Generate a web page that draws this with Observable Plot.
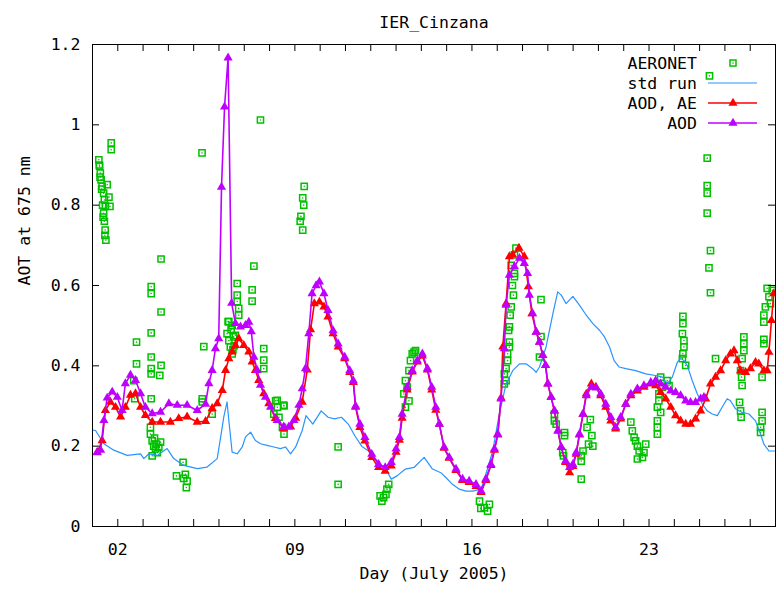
<!DOCTYPE html>
<html><head><meta charset="utf-8">
<script src="https://cdn.jsdelivr.net/npm/d3@7"></script>
<script src="https://cdn.jsdelivr.net/npm/@observablehq/plot@0.6"></script>
<style>
html,body{margin:0;padding:0;background:#fff;}
</style>
</head><body><div id="chart"></div>
<script>
// ---- data: [day of July 2005, AOT at 675 nm] ----
const aeronet = [
  [1.25,0.913],[1.28,0.897],[1.31,0.88],[1.34,0.863],[1.38,0.847],[1.44,0.83],[1.47,0.813],[1.51,0.797],
  [1.44,0.78],[1.47,0.76],[1.5,0.738],[1.53,0.713],[1.58,0.851],[1.65,0.82],[1.69,0.797],[1.74,0.955],[1.74,0.938],
  [1.27,0.9],[1.3,0.87],[1.36,0.84],[1.4,0.8],[1.42,0.77],[1.49,0.725],
  [2.63,0.363],[2.67,0.318],[2.74,0.459],[2.74,0.405],
  [3.32,0.597],[3.32,0.58],[3.32,0.482],[3.32,0.422],[3.32,0.393],[3.32,0.38],[3.32,0.318],
  [3.71,0.666],[3.71,0.534],[3.71,0.401],[3.66,0.376],
  [3.29,0.247],[3.29,0.23],[3.36,0.213],[3.42,0.2],[3.49,0.193],[3.56,0.184],[3.62,0.197],[3.69,0.21],
  [3.36,0.176],[3.45,0.22],[3.52,0.205],
  [4.58,0.16],[4.32,0.126],[4.67,0.13],[4.74,0.113],[4.71,0.097],[4.6,0.12],
  [5.33,0.93],[5.4,0.448],[5.34,0.318],[5.34,0.31],[5.73,0.28],
  [6.32,0.48],[6.39,0.463],[6.45,0.447],[6.52,0.43],[6.36,0.51],[6.39,0.51],[6.52,0.5],[6.58,0.472],
  [6.65,0.476],[6.6,0.45],[6.55,0.44],[6.48,0.49],
  [6.72,0.605],[6.72,0.576],[6.72,0.56],[6.78,0.543],[6.78,0.526],
  [7.64,1.012],[7.38,0.648],[7.31,0.589],[7.31,0.561],
  [7.77,0.443],[7.77,0.414],[7.77,0.393],
  [8.24,0.313],[8.31,0.297],[8.57,0.3],[8.37,0.272],[8.51,0.247],[8.57,0.23],[8.17,0.28],[8.3,0.314],[8.56,0.302],
  [9.37,0.847],[9.31,0.818],[9.35,0.8],[9.24,0.772],[9.21,0.76],[9.31,0.738],
  [10.71,0.198],[10.71,0.105],
  [12.37,0.076],[12.51,0.072],[12.64,0.093],[12.71,0.105],[12.44,0.063],[12.6,0.08],
  [13.37,0.297],[13.31,0.33],[13.37,0.363],[13.51,0.388],[13.57,0.413],[13.64,0.43],[13.71,0.434],[13.77,0.438],
  [13.44,0.347],[13.51,0.313],
  [16.3,0.063],[16.49,0.047],[16.62,0.038],[16.69,0.055],[16.35,0.045],
  [17.74,0.693],[17.68,0.676],[17.68,0.63],[17.68,0.622],[17.64,0.576],[17.55,0.547],[17.51,0.526],[17.48,0.497],
  [17.45,0.488],[17.48,0.459],[17.48,0.447],[17.41,0.43],[17.41,0.413],[17.35,0.393],[17.28,0.38],[17.28,0.355],
  [17.35,0.363],[17.6,0.6],[17.55,0.65],
  [18.73,0.565],[18.73,0.473],[18.67,0.422],
  [19.26,0.28],[19.26,0.263],[19.33,0.255],[19.66,0.234],[19.66,0.226],[19.59,0.184],[19.62,0.176],
  [20.32,0.118],[20.32,0.163],[20.32,0.176],
  [20.68,0.266],[20.55,0.247],[20.74,0.226],[20.61,0.205],[20.39,0.188],[20.78,0.2],
  [22.28,0.26],[22.34,0.238],[22.41,0.222],[22.47,0.213],[22.54,0.2],[22.61,0.188],[22.74,0.172],[22.8,0.184],
  [22.87,0.205],[22.54,0.168],
  [23.33,0.263],[23.33,0.247],[23.33,0.23],
  [23.46,0.372],[23.53,0.347],[23.39,0.33],[23.39,0.313],[23.33,0.297],[23.46,0.284],[23.72,0.363],[23.79,0.351],
  [24.34,0.523],[24.34,0.505],[24.32,0.48],[24.38,0.463],[24.38,0.447],[24.34,0.43],[24.32,0.418],[24.45,0.401],
  [25.3,0.917],[25.3,0.849],[25.3,0.83],[25.3,0.78],[25.43,0.687],[25.37,0.644],[25.43,0.582],[25.39,1.122],
  [25.63,0.418],
  [26.75,0.472],[26.75,0.455],[26.75,0.438],[26.68,0.418],[26.62,0.388],[26.66,0.372],[26.68,0.351],
  [26.58,0.309],[26.62,0.288],[26.64,0.272],
  [27.54,0.466],[27.54,0.455],[27.47,0.372],
  [27.47,0.284],[27.47,0.263],[27.41,0.247],[27.41,0.234],
  [27.67,0.593],[27.74,0.572],[27.6,0.547],[27.54,0.526],[27.54,0.509],[27.87,0.588],[27.8,0.555]
];

const stdRun = [
  [1.0,0.24],[1.12,0.239],[1.45,0.206],[1.84,0.19],[2.37,0.177],[2.9,0.181],[3.03,0.169],[3.23,0.181],
  [3.56,0.177],[3.95,0.194],[4.21,0.169],[4.61,0.152],[5.14,0.144],[5.53,0.148],[5.93,0.169],[6.13,0.248],
  [6.19,0.273],[6.32,0.31],[6.39,0.264],[6.52,0.185],[6.72,0.181],[6.92,0.198],[7.05,0.223],[7.25,0.235],
  [7.44,0.214],[7.64,0.206],[7.9,0.202],[8.17,0.198],[8.43,0.194],[8.63,0.198],[8.83,0.181],[9.03,0.198],
  [9.29,0.239],[9.44,0.276],[9.71,0.255],[10.04,0.288],[10.31,0.272],[10.57,0.268],[10.84,0.272],[11.11,0.255],
  [11.37,0.226],[11.64,0.2],[11.91,0.188],[12.31,0.16],[12.64,0.138],[12.81,0.118],[13.04,0.126],[13.37,0.143],
  [13.71,0.147],[14.11,0.172],[14.44,0.143],[14.77,0.134],[14.97,0.122],[15.23,0.105],[15.5,0.093],[15.76,0.088],
  [16.03,0.088],[16.36,0.093],[16.55,0.13],[16.82,0.188],[17.08,0.28],[17.35,0.355],[17.61,0.388],[17.88,0.405],
  [18.14,0.405],[18.4,0.393],[18.54,0.384],[18.67,0.397],[18.93,0.447],[19.2,0.53],[19.39,0.584],[19.53,0.576],
  [19.72,0.555],[19.99,0.573],[20.25,0.551],[20.52,0.526],[20.78,0.505],[21.05,0.488],[21.24,0.472],[21.44,0.447],
  [21.62,0.413],[21.82,0.397],[22.08,0.393],[22.47,0.388],[22.87,0.38],[23.26,0.376],[23.53,0.372],[23.72,0.355],
  [23.92,0.372],[24.12,0.409],[24.25,0.418],[24.38,0.413],[24.51,0.401],[24.71,0.363],[24.91,0.33],[25.11,0.305],
  [25.3,0.288],[25.5,0.28],[25.7,0.276],[25.89,0.297],[26.09,0.318],[26.22,0.313],[26.42,0.293],[26.68,0.284],
  [26.95,0.28],[27.21,0.263],[27.41,0.23],[27.54,0.205],[27.74,0.188],[28.0,0.188]
];

const aodAe = [
  [1.19,0.185],[1.38,0.214],[1.51,0.289],[1.71,0.31],[1.91,0.297],[2.11,0.273],[2.3,0.297],[2.5,0.327],
  [2.7,0.331],[2.9,0.297],[3.09,0.277],[3.36,0.26],[3.69,0.26],[4.08,0.26],[4.41,0.269],[4.74,0.273],
  [5.14,0.26],[5.47,0.262],[5.73,0.294],[5.93,0.306],[6.13,0.339],[6.26,0.389],[6.39,0.418],[6.52,0.435],
  [6.65,0.451],[6.78,0.468],[6.98,0.451],[7.18,0.435],[7.31,0.41],[7.44,0.389],[7.57,0.364],[7.77,0.331],
  [7.97,0.306],[8.23,0.269],[8.56,0.244],[8.83,0.248],[9.03,0.27],[9.29,0.31],[9.49,0.39],[9.62,0.49],
  [9.77,0.555],[9.97,0.559],[10.15,0.547],[10.31,0.522],[10.51,0.48],[10.71,0.447],[10.97,0.418],[11.17,0.384],
  [11.31,0.359],[11.4,0.297],[11.57,0.247],[11.77,0.213],[12.04,0.172],[12.31,0.147],[12.57,0.138],[12.81,0.151],
  [13.0,0.185],[13.13,0.215],[13.24,0.27],[13.44,0.34],[13.64,0.385],[13.84,0.41],[14.04,0.425],[14.24,0.39],
  [14.41,0.34],[14.57,0.29],[14.71,0.255],[14.9,0.195],[15.1,0.17],[15.37,0.14],[15.63,0.115],[15.89,0.11],
  [16.16,0.1],[16.36,0.085],[16.55,0.115],[16.75,0.152],[16.89,0.19],[17.02,0.228],[17.15,0.32],[17.22,0.447],
  [17.35,0.555],[17.48,0.672],[17.61,0.676],[17.86,0.693],[18.07,0.672],[18.23,0.597],[18.37,0.53],[18.54,0.484],
  [18.67,0.459],[18.8,0.426],[18.91,0.401],[19.0,0.355],[19.13,0.322],[19.26,0.288],[19.4,0.238],[19.53,0.197],
  [19.7,0.16],[19.86,0.134],[19.99,0.15],[20.12,0.18],[20.25,0.228],[20.39,0.28],[20.52,0.33],[20.72,0.355],
  [20.9,0.347],[21.09,0.326],[21.29,0.297],[21.49,0.263],[21.68,0.243],[21.88,0.268],[22.08,0.305],[22.28,0.326],
  [22.54,0.338],[22.8,0.347],[23.07,0.355],[23.26,0.351],[23.46,0.334],[23.66,0.318],[23.86,0.297],[24.05,0.276],
  [24.25,0.263],[24.45,0.255],[24.64,0.255],[24.84,0.268],[25.04,0.288],[25.24,0.318],[25.43,0.355],[25.63,0.372],
  [25.83,0.388],[26.03,0.413],[26.22,0.43],[26.36,0.438],[26.49,0.413],[26.62,0.388],[26.82,0.384],[27.01,0.393],
  [27.21,0.409],[27.34,0.405],[27.54,0.388],[27.67,0.388],[27.74,0.434],[27.84,0.513],[27.93,0.58]
];

const aod = [
  [1.18,0.184],[1.32,0.19],[1.45,0.264],[1.58,0.32],[1.78,0.335],[1.98,0.322],[2.17,0.289],[2.3,0.356],
  [2.5,0.377],[2.7,0.364],[2.9,0.331],[3.09,0.297],[3.36,0.281],[3.69,0.285],[4.02,0.306],[4.35,0.302],
  [4.74,0.302],[5.14,0.289],[5.47,0.305],[5.6,0.356],[5.73,0.389],[5.86,0.443],[5.99,0.468],[6.1,0.845],
  [6.22,1.045],[6.36,1.167],[6.5,0.556],[6.65,0.506],[6.85,0.497],[7.05,0.501],[7.18,0.509],[7.28,0.485],
  [7.38,0.422],[7.51,0.389],[7.64,0.352],[7.84,0.322],[8.04,0.297],[8.3,0.264],[8.56,0.248],[8.76,0.248],
  [8.96,0.264],[9.16,0.302],[9.29,0.343],[9.42,0.393],[9.55,0.48],[9.68,0.58],[9.84,0.6],[9.97,0.609],
  [10.15,0.58],[10.31,0.538],[10.51,0.488],[10.71,0.455],[10.97,0.422],[11.17,0.388],[11.31,0.363],[11.4,0.3],
  [11.57,0.255],[11.77,0.222],[12.04,0.18],[12.31,0.155],[12.57,0.147],[12.81,0.16],[13.0,0.193],[13.13,0.222],
  [13.24,0.28],[13.44,0.347],[13.64,0.388],[13.84,0.413],[14.04,0.43],[14.24,0.393],[14.41,0.347],[14.57,0.297],
  [14.71,0.255],[14.9,0.197],[15.1,0.172],[15.37,0.143],[15.63,0.118],[15.89,0.113],[16.16,0.105],[16.36,0.088],
  [16.55,0.118],[16.75,0.155],[16.89,0.193],[17.02,0.23],[17.15,0.318],[17.28,0.443],[17.35,0.551],[17.48,0.626],
  [17.68,0.647],[17.88,0.668],[18.07,0.655],[18.2,0.63],[18.27,0.576],[18.4,0.53],[18.54,0.484],[18.67,0.459],
  [18.8,0.426],[18.91,0.401],[19.0,0.355],[19.13,0.322],[19.26,0.288],[19.4,0.238],[19.53,0.197],[19.7,0.163],
  [19.86,0.147],[19.99,0.155],[20.12,0.184],[20.25,0.23],[20.39,0.28],[20.52,0.326],[20.72,0.347],[20.91,0.345],
  [21.09,0.33],[21.29,0.305],[21.49,0.272],[21.68,0.247],[21.88,0.272],[22.08,0.305],[22.28,0.33],[22.54,0.343],
  [22.8,0.351],[23.07,0.359],[23.26,0.363],[23.46,0.355],[23.66,0.347],[23.86,0.338],[24.05,0.334],[24.25,0.326],
  [24.45,0.313],[24.64,0.309],[24.84,0.309],[25.04,0.318],[25.17,0.322]
];

const dayTicks = d3.range(1, 29);
const dayLabels = [2, 9, 16, 23];
const aotTicks = [0, 0.2, 0.4, 0.6, 0.8, 1, 1.2];
const titleText = "IER_Cinzana";
const xLabel = "Day (July 2005)";
const yLabel = "AOT at 675 nm";
const legendItems = [
  {label: "AERONET", kind: "square", color: "#00c000"},
  {label: "std run", kind: "line", color: "#2894ff"},
  {label: "AOD, AE", kind: "tri", color: "#ff0000"},
  {label: "AOD", kind: "tri", color: "#c000ff"}
];

// ---- layout ----
const FONT = "DejaVu Sans Mono";
const FS = 16.5;
const W = 776, H = 593;
const mL = 92, mR = 1, mT = 44, mB = 67;
const innerH = H - mT - mB;
const innerW = W - mL - mR;
const tickLen = 7;
const cGreen = "#00c000", cBlue = "#2894ff", cRed = "#ff0000", cPurple = "#c000ff";
const triR = 3.4;

const plot = Plot.plot({
  width: W, height: H,
  marginLeft: mL, marginRight: mR, marginTop: mT, marginBottom: mB,
  style: {fontFamily: FONT, fontSize: FS + "px", color: "black", background: "white"},
  x: {domain: [1, 28]},
  y: {domain: [0, 1.2]},
  marks: [
    // AERONET
    Plot.dot(aeronet, {x: d => d[0], y: d => d[1], symbol: "square", r: 3.5, stroke: cGreen, strokeWidth: 1.5, fill: "none"}),
    Plot.dot(aeronet, {x: d => d[0], y: d => d[1], r: 0.8, fill: cGreen, stroke: "none"}),
    // std run
    Plot.line(stdRun, {x: d => d[0], y: d => d[1], stroke: cBlue, strokeWidth: 1.2}),
    // AOD, AE
    Plot.line(aodAe, {x: d => d[0], y: d => d[1], stroke: cRed, strokeWidth: 1.6}),
    Plot.dot(aodAe, {x: d => d[0], y: d => d[1], symbol: "triangle", r: triR, fill: cRed, stroke: "none"}),
    // AOD
    Plot.line(aod, {x: d => d[0], y: d => d[1], stroke: cPurple, strokeWidth: 1.6}),
    Plot.dot(aod, {x: d => d[0], y: d => d[1], symbol: "triangle", r: triR, fill: cPurple, stroke: "none"}),
    // inward ticks on all four sides
    Plot.tickX(dayTicks, {x: d => d, insetTop: innerH - tickLen, stroke: "black"}),
    Plot.tickX(dayTicks, {x: d => d, insetBottom: innerH - tickLen, stroke: "black"}),
    Plot.tickY(aotTicks, {y: d => d, insetRight: innerW - tickLen, stroke: "black"}),
    Plot.tickY(aotTicks, {y: d => d, insetLeft: innerW - tickLen, stroke: "black"}),
    Plot.axisX(dayLabels, {tickSize: 0, tickPadding: 17, tickFormat: d => String(d).padStart(2, "0"), label: null}),
    Plot.axisY(aotTicks, {tickSize: 0, tickPadding: 12, tickFormat: d => String(+d.toFixed(1)), label: null}),
    Plot.frame({stroke: "black"}),
    // titles
    Plot.text([titleText], {frameAnchor: "top", dy: -28, text: d => d, fontSize: FS}),
    Plot.text([xLabel], {frameAnchor: "bottom", dy: 52, text: d => d, fontSize: FS}),
    Plot.text([yLabel], {frameAnchor: "left", dx: -68, rotate: -90, text: d => d, fontSize: FS})
  ]
});

document.getElementById("chart").appendChild(plot);

// ---- legend (gnuplot style, inside top-right) ----
const svg = d3.select(plot);
const right = W - mR;
const textX = right - 78, sx1 = right - 67, sx2 = right - 18, symX = right - 42;
const lg = svg.append("g").attr("font-family", FONT).attr("font-size", FS);
legendItems.forEach((it, i) => {
  const y = mT + 19 + i * 20;
  lg.append("text").attr("x", textX).attr("y", y).attr("text-anchor", "end")
    .attr("dy", "0.35em").attr("fill", "black").text(it.label);
  if (it.kind === "square") {
    lg.append("rect").attr("x", symX - 3).attr("y", y - 3).attr("width", 6).attr("height", 6)
      .attr("fill", "none").attr("stroke", it.color).attr("stroke-width", 1.5);
    lg.append("circle").attr("cx", symX).attr("cy", y).attr("r", 0.8).attr("fill", it.color);
  } else {
    lg.append("line").attr("x1", sx1).attr("x2", sx2).attr("y1", y).attr("y2", y)
      .attr("stroke", it.color).attr("stroke-width", it.kind === "line" ? 1.2 : 1.6);
    if (it.kind === "tri") {
      lg.append("path").attr("transform", `translate(${symX},${y})`)
        .attr("d", d3.symbol(d3.symbolTriangle, Math.PI * triR * triR)()).attr("fill", it.color);
    }
  }
});
</script>
</body></html>
